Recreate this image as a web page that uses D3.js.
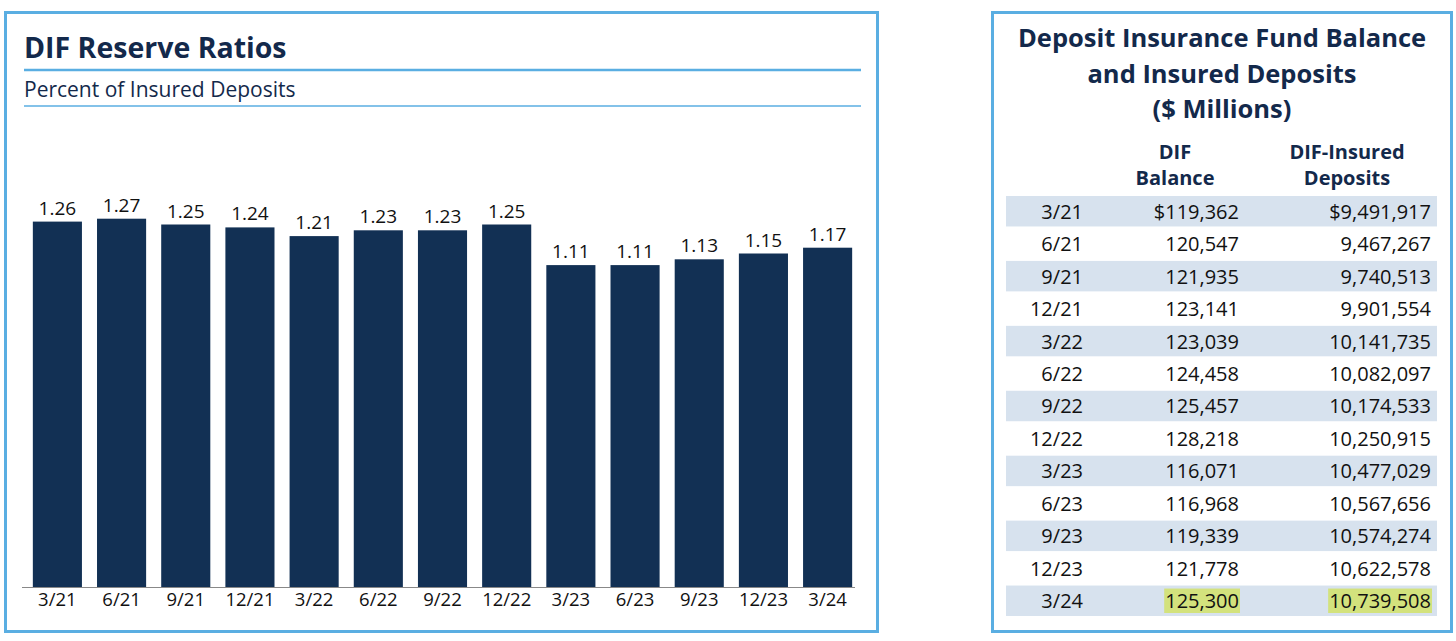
<!DOCTYPE html>
<html>
<head>
<meta charset="utf-8">
<script src="https://cdn.jsdelivr.net/npm/d3@7"></script>
<style>
  body { margin: 0; background: #fff; }
  svg text { font-family: "Open Sans", "Noto Sans", sans-serif; }
</style>
</head>
<body>
<script>
// data
var quarters = ["3/21","6/21","9/21","12/21","3/22","6/22","9/22","12/22","3/23","6/23","9/23","12/23","3/24"];
var ratios = [1.26, 1.27, 1.25, 1.24, 1.21, 1.23, 1.23, 1.25, 1.11, 1.11, 1.13, 1.15, 1.17];
var difBalance = ["$119,362","120,547","121,935","123,141","123,039","124,458","125,457","128,218","116,071","116,968","119,339","121,778","125,300"];
var insuredDeposits = ["$9,491,917","9,467,267","9,740,513","9,901,554","10,141,735","10,082,097","10,174,533","10,250,915","10,477,029","10,567,656","10,574,274","10,622,578","10,739,508"];

var navy = "#13294b", frame = "#5aaee2";

var svg = d3.select("body").append("svg").attr("width", 1456).attr("height", 641);

// ---- left panel: bar chart
svg.append("rect").attr("x", 5.5).attr("y", 12.5).attr("width", 872).attr("height", 619)
  .attr("fill", "none").attr("stroke", frame).attr("stroke-width", 3);

svg.append("text").attr("x", 24).attr("y", 58).text("DIF Reserve Ratios")
  .attr("font-size", 28.5).attr("font-weight", 700).attr("fill", navy);
svg.append("line").attr("x1", 24).attr("x2", 861).attr("y1", 70).attr("y2", 70)
  .attr("stroke", frame).attr("stroke-width", 2.5);
svg.append("text").attr("x", 24).attr("y", 97).text("Percent of Insured Deposits")
  .attr("font-size", 21).attr("fill", navy);
svg.append("line").attr("x1", 24).attr("x2", 861).attr("y1", 106).attr("y2", 106)
  .attr("stroke", frame).attr("stroke-width", 1.5);

var x = d3.scaleBand().domain(quarters).range([20, 865]).paddingInner(0.235).paddingOuter(0.2);
var y = d3.scaleLinear().domain([0, 1.3]).range([587, 587 - 1.3 * 290]);

var g = svg.append("g");
g.selectAll("rect.bar").data(quarters).enter().append("rect").attr("class", "bar")
  .attr("x", function(d) { return x(d); })
  .attr("width", x.bandwidth())
  .attr("y", function(d, i) { return y(ratios[i]); })
  .attr("height", function(d, i) { return y(0) - y(ratios[i]); })
  .attr("fill", "#123054");

g.selectAll("text.val").data(quarters).enter().append("text").attr("class", "val")
  .attr("x", function(d) { return x(d) + x.bandwidth() / 2; })
  .attr("y", function(d, i) { return y(ratios[i]) - 7; })
  .attr("text-anchor", "middle").attr("font-size", 19).attr("fill", "#111")
  .text(function(d, i) { return ratios[i].toFixed(2); });

var xAxis = svg.append("g").attr("transform", "translate(0,587)")
  .call(d3.axisBottom(x).tickSize(0).tickPadding(6));
xAxis.select(".domain").attr("stroke", "#888").attr("d", "M22,0.5H855");
xAxis.selectAll("text").attr("font-size", 18.5).attr("fill", "#111")
  .style("font-family", "'Open Sans', 'Noto Sans', sans-serif");

// ---- right panel: table
svg.append("rect").attr("x", 992.5).attr("y", 12.5).attr("width", 459).attr("height", 619)
  .attr("fill", "none").attr("stroke", frame).attr("stroke-width", 3);

var titleLines = ["Deposit Insurance Fund Balance", "and Insured Deposits", "($ Millions)"];
svg.selectAll("text.ttl").data(titleLines).enter().append("text").attr("class", "ttl")
  .attr("x", 1222).attr("y", function(d, i) { return 47 + i * 35.5; })
  .attr("text-anchor", "middle").attr("font-size", 25.5).attr("font-weight", 700).attr("fill", navy)
  .text(function(d) { return d; });

var heads = [[1175, "DIF", "Balance"], [1347, "DIF-Insured", "Deposits"]];
heads.forEach(function(h) {
  [h[1], h[2]].forEach(function(t, i) {
    svg.append("text").attr("x", h[0]).attr("y", 159 + i * 26).attr("text-anchor", "middle")
      .attr("font-size", 20).attr("font-weight", 700).attr("fill", navy).text(t);
  });
});

var rowY = d3.scaleBand().domain(quarters).range([195, 617]);
var rows = svg.append("g").selectAll("g").data(quarters).enter().append("g")
  .attr("transform", function(d) { return "translate(0," + rowY(d) + ")"; });

rows.filter(function(d, i) { return i % 2 === 0; }).append("rect")
  .attr("x", 1006).attr("width", 431).attr("height", rowY.bandwidth() - 2).attr("y", 1)
  .attr("fill", "#d7e2ee");

var last = quarters.length - 1;
var rh = rowY.bandwidth();
rows.append("text").attr("x", 1083).attr("y", rh / 2 + 7.5).attr("text-anchor", "end")
  .attr("font-size", 20).attr("fill", "#111").text(function(d) { return d; });

rows.each(function(d, i) {
  var row = d3.select(this);
  [[1239, difBalance[i]], [1431, insuredDeposits[i]]].forEach(function(c) {
    var t = row.append("text").attr("x", c[0]).attr("y", rh / 2 + 7.5).attr("text-anchor", "end")
      .attr("font-size", 20).attr("fill", "#111").text(c[1]);
    if (i === last) {
      var bb = t.node().getBBox();
      row.insert("rect", "text").attr("x", bb.x - 1).attr("y", 4).attr("width", bb.width + 2)
        .attr("height", rh - 8).attr("fill", "#d3e27d");
    }
  });
});
</script>
</body>
</html>
